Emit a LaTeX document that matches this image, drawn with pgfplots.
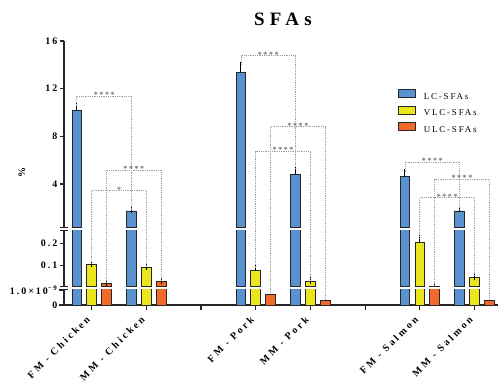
\documentclass[border=0pt]{standalone}
\usepackage{fontspec}
\setmainfont{Liberation Serif}[LetterSpace=20]
\newfontfamily\titlefont{Liberation Serif}[LetterSpace=28]
\newfontfamily\labelfont{Liberation Serif}[LetterSpace=27]
\usepackage{pgfplots}
\usepackage{pgfplotstable}
\pgfplotsset{compat=1.18}

\definecolor{lcblue}{HTML}{5A92D0}
\definecolor{vlcyellow}{HTML}{EAE51C}
\definecolor{ulcorange}{HTML}{F26A2A}

% mean and upper SD of each fatty-acid class
\pgfplotstableread{
x lc lcerr vlc vlcerr ulc ulcerr
0 10.15 0.37 0.105 0.004 0.0215 0.002
1 1.74 0.10 0.093 0.003 0.0287 0.002
3 13.37 0.61 0.080 0.009 0.71e-9 0.03e-9
4 4.82 0.42 0.031 0.003 0.33e-9 0.03e-9
6 4.61 0.37 0.202 0.020 0.0095 0.001
7 1.74 0.14 0.049 0.003 0.29e-9 0.03e-9
}\sfas

\pgfplotsset{
  segment/.style={
    scale only axis, width=434bp, xmin=-0.506, xmax=7.43,
    anchor=south west, axis y line*=left,
    axis line style={line width=1.2bp, black!85},
    tick align=outside, major tick length=4.5bp,
    tick style={line width=1.2bp, black!85},
    yticklabel style={font=\bfseries\fontsize{10}{10}\selectfont, inner sep=2bp},
    scaled y ticks=false,
  },
  barbase/.style={ybar, bar width=9.6bp, bar shift=0pt, draw=black!85, line width=0.9bp},
  lcbar/.style={barbase, fill=lcblue},
  vlcbar/.style={barbase, fill=vlcyellow},
  ulcbar/.style={barbase, fill=ulcorange},
  errbars/.style={
    error bars/y dir=plus, error bars/y explicit,
    error bars/error bar style={line width=1bp, black},
    error bars/error mark options={line width=1bp, black, mark size=3.2bp},
  },
}
\tikzset{
  sig/.style={draw=gray!75, line width=0.8bp, dash pattern=on 0.9bp off 0.9bp},
  stars/.style={anchor=base, yshift=-1.6bp, inner sep=0pt, text=gray!85!black,
    font=\bfseries\fontsize{8}{8}\selectfont},
}

\begin{document}
\begin{tikzpicture}
\path[use as bounding box] (0bp,0bp) rectangle (500bp,382bp);

% lowest segment: 0 to 1e-9
\begin{axis}[segment, at={(64bp,77bp)}, height=15.5bp, ymin=0, ymax=1.0333e-9,
  axis x line*=bottom,
  xtick={0,...,7},
  xticklabels={FM - Chicken, MM - Chicken, {}, FM - Pork, MM - Pork, {}, FM - Salmon, MM - Salmon},
  xticklabel style={font=\labelfont\bfseries\fontsize{10}{10}\selectfont,
    xshift=-6bp, yshift=-4bp, rotate=45, anchor=north east, inner sep=1bp},
  ytick={0,1e-9}, yticklabels={0, {1.0×10\textsuperscript{−9}}},
  restrict y to domain*=0:2e-9]
\addplot[lcbar] table[x expr=\thisrow{x}-0.2707, y=lc] {\sfas};
\addplot[vlcbar] table[x=x, y=vlc] {\sfas};
\addplot[ulcbar] table[x expr=\thisrow{x}+0.2707, y=ulc] {\sfas};
\coordinate (o3) at (axis cs:3.2707,0.74e-9);
\coordinate (o4) at (axis cs:4.2707,0.36e-9);
\coordinate (o7) at (axis cs:7.2707,0.32e-9);
\end{axis}

% middle segment: 0 to 0.26
\begin{axis}[segment, at={(64bp,95.2bp)}, height=56.22bp, ymin=0.006, ymax=0.257,
  hide x axis, xtick=\empty,
  ytick={0.1,0.2}, yticklabels={0.1,0.2},
  restrict y to domain=0.001:100]
\addplot[lcbar, errbars] table[x expr=\thisrow{x}-0.2707, y=lc, y error=lcerr] {\sfas};
\addplot[vlcbar, errbars] table[x=x, y=vlc, y error=vlcerr] {\sfas};
\addplot[ulcbar, errbars] table[x expr=\thisrow{x}+0.2707, y=ulc, y error=ulcerr] {\sfas};
\coordinate (y0) at (axis cs:0,0.109);
\coordinate (y1) at (axis cs:1,0.096);
\coordinate (y3) at (axis cs:3,0.089);
\coordinate (y4) at (axis cs:4,0.034);
\coordinate (y6) at (axis cs:6,0.222);
\coordinate (y7) at (axis cs:7,0.052);
\coordinate (o0) at (axis cs:0.2707,0.0235);
\coordinate (o1) at (axis cs:1.2707,0.0307);
\coordinate (o6) at (axis cs:6.2707,0.0105);
\end{axis}

% upper segment: up to 16 (only LC-SFAs reach it)
\begin{axis}[segment, at={(64bp,154.5bp)}, height=186.5bp, ymin=0.352, ymax=16,
  hide x axis, xtick=\empty,
  ytick={4,8,12,16}, yticklabels={4,8,12,16},
  legend cell align=left,
  legend style={at={(0.7696,0.7405)}, anchor=north west, draw=none, fill=none,
    inner sep=0pt, outer sep=0pt, row sep=4.5bp, column sep=8bp,
    nodes={inner sep=0pt, text height=7bp, text depth=2bp,
      font=\fontsize{9}{9}\selectfont}}]
\addlegendimage{legend image code/.code={\draw[fill=lcblue, draw=black!85, line width=0.9bp] (0bp,-1bp) rectangle (17bp,7bp);}}
\addlegendentry{LC-SFAs}
\addlegendimage{legend image code/.code={\draw[fill=vlcyellow, draw=black!85, line width=0.9bp] (0bp,-1bp) rectangle (17bp,7bp);}}
\addlegendentry{VLC-SFAs}
\addlegendimage{legend image code/.code={\draw[fill=ulcorange, draw=black!85, line width=0.9bp] (0bp,-1bp) rectangle (17bp,7bp);}}
\addlegendentry{ULC-SFAs}
\addplot[lcbar, errbars, forget plot] table[x expr=\thisrow{x}-0.2707, y=lc, y error=lcerr] {\sfas};
\coordinate (b0) at (axis cs:-0.2707,10.52);
\coordinate (b1) at (axis cs:0.7293,1.84);
\coordinate (b3) at (axis cs:2.7293,13.98);
\coordinate (b4) at (axis cs:3.7293,5.24);
\coordinate (b6) at (axis cs:5.7293,4.98);
\coordinate (b7) at (axis cs:6.7293,1.88);
% bracket heights
\coordinate (Lc1) at (axis cs:0,11.38);
\coordinate (Lc2) at (axis cs:0,5.15);
\coordinate (Lc3) at (axis cs:0,3.44);
\coordinate (Lp1) at (axis cs:0,14.77);
\coordinate (Lp2) at (axis cs:0,8.81);
\coordinate (Lp3) at (axis cs:0,6.77);
\coordinate (Ls1) at (axis cs:0,5.82);
\coordinate (Ls2) at (axis cs:0,4.40);
\coordinate (Ls3) at (axis cs:0,2.85);
\end{axis}

% axis break marks
\foreach \yb in {227.5,230.6,286.8,289.5}
  \draw[line width=1bp, black!85] (60bp,{(382-\yb)*1bp}) -- (68bp,{(382-\yb)*1bp});

% significance brackets
\draw[sig] (b0) -- (b0|-Lc1) -- node[stars]{****} (b1|-Lc1) -- (b1);
\draw[sig] (o0) -- (o0|-Lc2) -- node[stars]{****} (o1|-Lc2) -- (o1);
\draw[sig] (y0) -- (y0|-Lc3) -- node[stars]{*} (y1|-Lc3) -- (y1);
\draw[sig] (b3) -- (b3|-Lp1) -- node[stars]{****} (b4|-Lp1) -- (b4);
\draw[sig] (o3) -- (o3|-Lp2) -- node[stars]{****} (o4|-Lp2) -- (o4);
\draw[sig] (y3) -- (y3|-Lp3) -- node[stars]{****} (y4|-Lp3) -- (y4);
\draw[sig] (b6) -- (b6|-Ls1) -- node[stars]{****} (b7|-Ls1) -- (b7);
\draw[sig] (o6) -- (o6|-Ls2) -- node[stars]{****} (o7|-Ls2) -- (o7);
\draw[sig] (y6) -- (y6|-Ls3) -- node[stars]{****} (y7|-Ls3) -- (y7);

% title and y label
\node[font=\titlefont\bfseries\fontsize{19}{19}\selectfont] at (283bp,362.7bp) {SFAs};
\node[rotate=90, font=\bfseries\fontsize{10}{10}\selectfont] at (22bp,209bp) {\%};
\end{tikzpicture}
\end{document}
